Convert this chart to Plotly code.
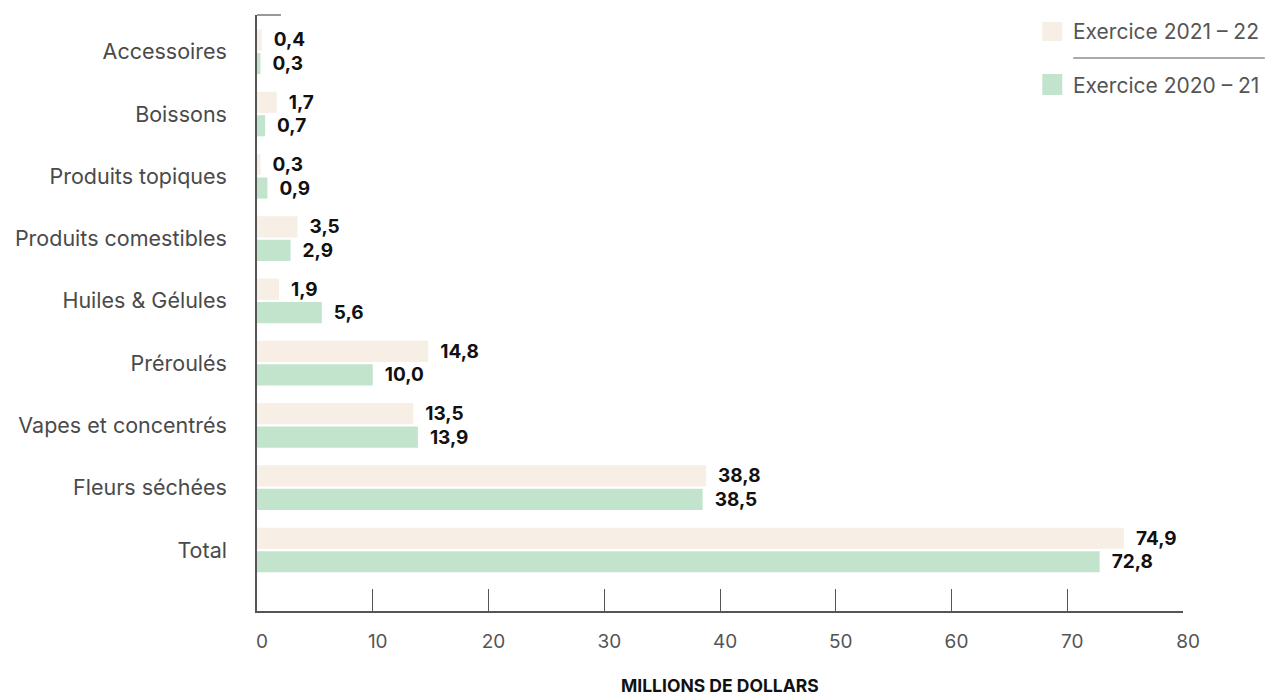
import plotly.graph_objects as go

categories = ["Total", "Fleurs séchées", "Vapes et concentrés", "Préroulés",
              "Huiles & Gélules", "Produits comestibles", "Produits topiques",
              "Boissons", "Accessoires"]
values_2021_22 = [74.9, 38.8, 13.5, 14.8, 1.9, 3.5, 0.3, 1.7, 0.4]
values_2020_21 = [72.8, 38.5, 13.9, 10.0, 5.6, 2.9, 0.9, 0.7, 0.3]
series_names = ["Exercice 2021 – 22", "Exercice 2020 – 21"]
series_colors = ["#F7EEE5", "#C2E4CD"]
x_ticks = [0, 10, 20, 30, 40, 50, 60, 70, 80]
x_title = "MILLIONS DE DOLLARS"

FONT = "Inter, Roboto, sans-serif"
OFF = 8  # page body margin

fig = go.Figure()
# green first so it sits below beige within each group
fig.add_trace(go.Bar(
    y=categories, x=values_2020_21, orientation="h", name=series_names[1],
    marker=dict(color=series_colors[1], line=dict(width=0)),
    texttemplate="  %{x:.1f}", textposition="outside", cliponaxis=False,
    constraintext="none",
    textfont=dict(family=FONT, size=19, color="#111111", weight="bold"),
    showlegend=False,
))
fig.add_trace(go.Bar(
    y=categories, x=values_2021_22, orientation="h", name=series_names[0],
    marker=dict(color=series_colors[0], line=dict(width=0)),
    texttemplate="  %{x:.1f}", textposition="outside", cliponaxis=False,
    constraintext="none",
    textfont=dict(family=FONT, size=19, color="#111111", weight="bold"),
    showlegend=False,
))

W, H = 1273 - OFF, 696 - OFF
L, T = 255 - OFF, 15 - OFF
R = W - (1183 - OFF)
B = H - (611 - OFF)
fig.update_layout(
    width=W, height=H,
    margin=dict(l=L, r=R, t=T, b=B),
    paper_bgcolor="white", plot_bgcolor="white",
    barmode="group", bargap=0.245, bargroupgap=0.1,
    separators=", ",
    font=dict(family=FONT, color="#444444"),
)
fig.update_xaxes(
    range=[0, 80], tickvals=x_ticks, ticktext=[str(t) for t in x_ticks],
    showgrid=False, zeroline=False,
    showline=True, linecolor="#555555", linewidth=1.5,
    ticks="inside", ticklen=22, tickcolor="#555555", tickwidth=1.3,
    tickfont=dict(family=FONT, size=19, color="#555555"),
    ticklabelstandoff=12, ticklabelshift=5,
)
fig.update_yaxes(
    range=[-0.98, 8.59], showgrid=False, zeroline=False,
    showline=True, linecolor="#555555", linewidth=1.5,
    ticks="", tickfont=dict(family=FONT, size=21.5, color="#4a4a4a"),
    ticklabelstandoff=24,
)

def py(p):
    return (611 - p) / 596.0

def px(p):
    return (p - 255) / 928.0

shapes = [
    dict(type="line", xref="paper", yref="paper", x0=0, x1=px(279), y0=1, y1=1,
         line=dict(color="#777777", width=1.5)),
    dict(type="rect", xref="paper", yref="paper", x0=px(1042), x1=px(1062),
         y0=py(41), y1=py(22), fillcolor=series_colors[0], line=dict(width=0)),
    dict(type="rect", xref="paper", yref="paper", x0=px(1042), x1=px(1062),
         y0=py(95), y1=py(74), fillcolor=series_colors[1], line=dict(width=0)),
    dict(type="line", xref="paper", yref="paper", x0=px(1073), x1=px(1265),
         y0=py(58), y1=py(58), line=dict(color="#555555", width=1.2)),
]
annotations = [
    dict(xref="paper", yref="paper", x=px(1071), y=py(32), text=series_names[0],
         showarrow=False, xanchor="left", yanchor="middle",
         font=dict(family=FONT, size=21, color="#555555")),
    dict(xref="paper", yref="paper", x=px(1071), y=py(85), text=series_names[1],
         showarrow=False, xanchor="left", yanchor="middle",
         font=dict(family=FONT, size=21, color="#555555")),
    dict(xref="paper", yref="paper", x=px(719), y=py(685), text=x_title,
         showarrow=False, xanchor="center", yanchor="middle",
         font=dict(family=FONT, size=17.5, color="#111111", weight="bold")),
]
fig.update_layout(shapes=shapes, annotations=annotations)

fig.write_html("out.html")
